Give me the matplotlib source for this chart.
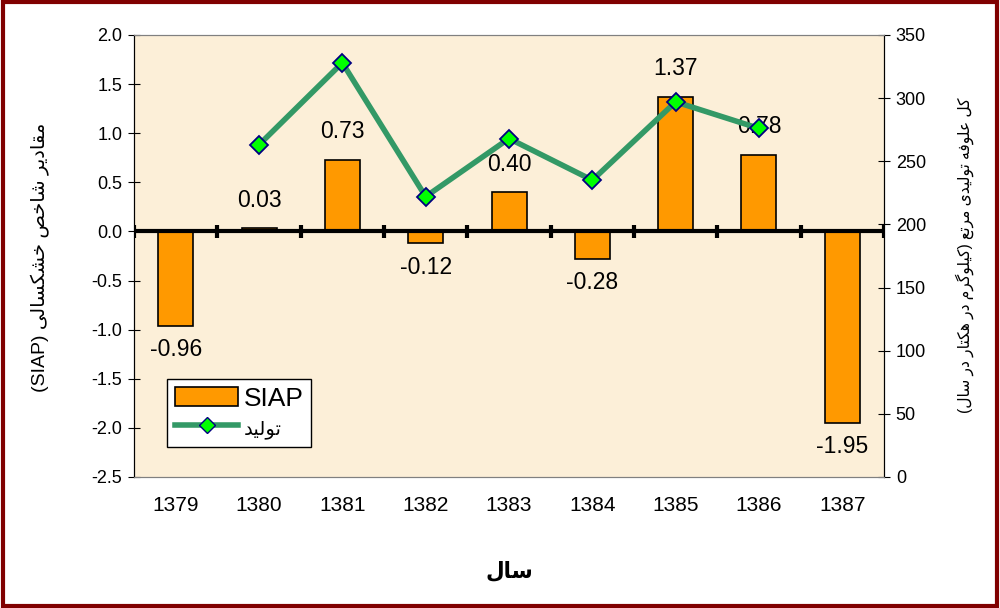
import numpy as np
import matplotlib
matplotlib.use('Agg')
import matplotlib.pyplot as plt
from matplotlib.patches import Rectangle
from matplotlib.lines import Line2D

plt.rcParams['font.family'] = ['Liberation Sans', 'DejaVu Sans']
plt.rcParams['axes.unicode_minus'] = False

# data
years = ['1379', '1380', '1381', '1382', '1383', '1384', '1385', '1386', '1387']
siap = [-0.96, 0.03, 0.73, -0.12, 0.40, -0.28, 1.37, 0.78, -1.95]
production = [np.nan, 263, 328, 222, 268, 235, 297, 276, np.nan]

# minimal arabic/persian shaping (matplotlib has no text shaping)
# char: (isolated, final, initial, medial)
FORMS = {
    '\u0627': (0xFE8D, 0xFE8E, None, None),
    '\u062F': (0xFEA9, 0xFEAA, None, None),
    '\u0631': (0xFEAD, 0xFEAE, None, None),
    '\u0648': (0xFEED, 0xFEEE, None, None),
    '\u0645': (0xFEE1, 0xFEE2, 0xFEE3, 0xFEE4),
    '\u0642': (0xFED5, 0xFED6, 0xFED7, 0xFED8),
    '\u0634': (0xFEB5, 0xFEB6, 0xFEB7, 0xFEB8),
    '\u062E': (0xFEA5, 0xFEA6, 0xFEA7, 0xFEA8),
    '\u0635': (0xFEB9, 0xFEBA, 0xFEBB, 0xFEBC),
    '\u0633': (0xFEB1, 0xFEB2, 0xFEB3, 0xFEB4),
    '\u0644': (0xFEDD, 0xFEDE, 0xFEDF, 0xFEE0),
    '\u0639': (0xFEC9, 0xFECA, 0xFECB, 0xFECC),
    '\u0641': (0xFED1, 0xFED2, 0xFED3, 0xFED4),
    '\u0647': (0xFEE9, 0xFEEA, 0xFEEB, 0xFEEC),
    '\u062A': (0xFE95, 0xFE96, 0xFE97, 0xFE98),
    '\u06A9': (0xFB8E, 0xFB8F, 0xFB90, 0xFB91),
    '\u06AF': (0xFB92, 0xFB93, 0xFB94, 0xFB95),
    '\u06CC': (0xFBFC, 0xFBFD, 0xFBFE, 0xFBFF),
}
MIRROR = {'(': ')', ')': '('}


def rtl(text):
    out = []
    for i, ch in enumerate(text):
        if ch not in FORMS:
            out.append(MIRROR.get(ch, ch))
            continue
        f = FORMS[ch]
        prev = text[i - 1] if i > 0 else ''
        nxt = text[i + 1] if i + 1 < len(text) else ''
        jp = prev in FORMS and FORMS[prev][2] is not None
        jn = f[2] is not None and nxt in FORMS
        if jp and jn:
            code = f[3]
        elif jp:
            code = f[1]
        elif jn:
            code = f[2]
        else:
            code = f[0]
        out.append(chr(code))
    return ''.join(out[::-1])


label_left = '(SIAP) ' + rtl('مقادیر شاخص خشکسالی')
label_right = rtl('کل علوفه تولیدی مرتع (کیلوگرم در هکتار در سال)')
label_x = rtl('سال')
label_line = rtl('تولید')

fig = plt.figure(figsize=(10, 6.08), dpi=100)
fig.patch.set_facecolor('white')
ax = fig.add_axes([0.134, 0.2155, 0.75, 0.727])
ax.set_facecolor('#FCEFD8')

x = np.arange(len(years))
bars = ax.bar(x, siap, width=0.42, color='#FF9900', edgecolor='black', linewidth=1.2, zorder=2)

ax.set_xlim(-0.5, len(years) - 0.5)
ax.set_ylim(-2.5, 2.0)
ax.set_yticks(np.arange(-2.5, 2.01, 0.5))
ax.set_yticklabels(['%.1f' % v for v in np.arange(-2.5, 2.01, 0.5)])
ax.set_xticks(x)
ax.set_xticklabels(years)
ax.tick_params(axis='x', length=0, pad=14, labelsize=15)
ax.tick_params(axis='y', direction='inout', length=9, labelsize=13, pad=4)

# zero line with category tick marks
ax.axhline(0, color='black', lw=3, zorder=3)
bounds = np.arange(-0.5, len(years), 1.0)
ax.vlines(bounds, -0.07, 0.07, color='black', lw=3, zorder=3)

for sp in ['top', 'bottom']:
    ax.spines[sp].set_color('#808080')
ax.spines['left'].set_color('black')

# data labels
for xi, v in zip(x, siap):
    off = 28 if v >= 0 else -24
    ax.annotate('%.2f' % v, (xi, v), xytext=(0, off), textcoords='offset pixels',
                ha='center', va='center', fontsize=16.5, zorder=4)

ax2 = ax.twinx()
ax2.set_ylim(0, 350)
ax2.set_yticks(np.arange(0, 351, 50))
ax2.tick_params(axis='y', direction='inout', length=9, labelsize=13, pad=4)
ax2.plot(x, production, color='#339966', lw=4, marker='D', markersize=9,
         markerfacecolor='#00FF00', markeredgecolor='#000080', markeredgewidth=1.3, zorder=5)
ax2.spines['right'].set_color('black')
for sp in ['top', 'bottom']:
    ax2.spines[sp].set_color('#808080')

handles = [bars, Line2D([], [], color='#339966', lw=4, marker='D', markersize=8,
                        markerfacecolor='#00FF00', markeredgecolor='#000080')]
leg = ax2.legend(handles, ['SIAP', label_line], loc='lower left',
                 bbox_to_anchor=(0.044, 0.068), borderaxespad=0, fontsize=19,
                 frameon=True, fancybox=False, edgecolor='black', facecolor='white',
                 framealpha=1, handlelength=2.4, handletextpad=0.2, borderpad=0.3,
                 labelspacing=0.2)
leg.get_frame().set_linewidth(1)
leg.get_texts()[1].set_fontsize(14)

fig.text(0.509, 0.059, label_x, ha='center', va='center', fontsize=15.5, fontweight='bold')
fig.text(0.04, 0.576, label_left, rotation=90, ha='center', va='center', fontsize=14)
fig.text(0.965, 0.58, label_right, rotation=90, ha='center', va='center', fontsize=11.2)

fig.patches.append(Rectangle((0.003, 0.004), 0.994, 0.992, transform=fig.transFigure,
                             fill=False, edgecolor='#800000', lw=3))

fig.savefig('out.png', dpi=100)
